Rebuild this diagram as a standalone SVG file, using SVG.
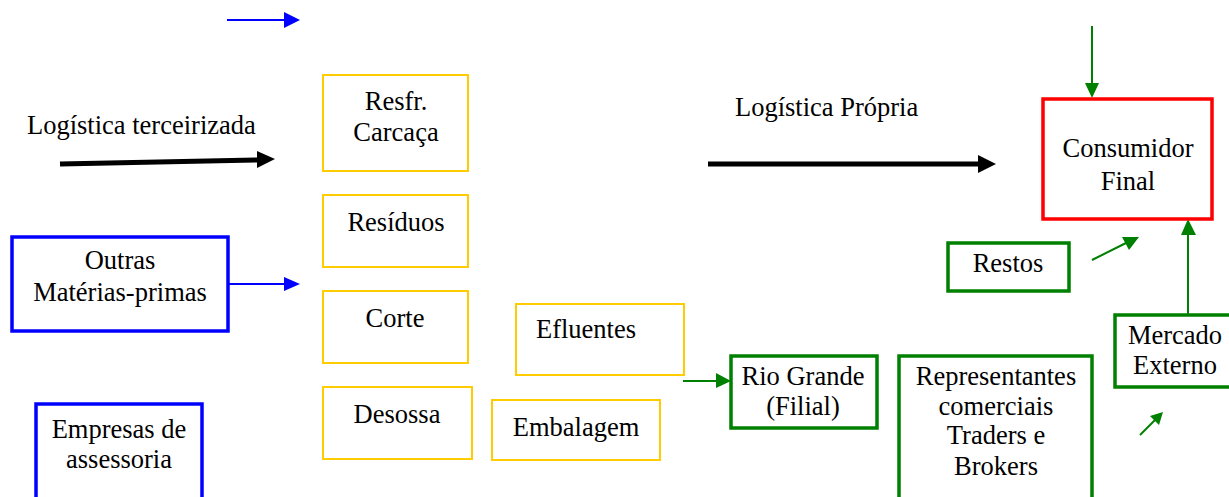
<svg xmlns="http://www.w3.org/2000/svg" width="1229" height="497" viewBox="0 0 1229 497">
<style>
text{font-family:"Liberation Serif","Times New Roman",serif;font-size:26.5px;fill:#000}
.c{text-anchor:middle}
.y{fill:#fff;stroke:#FFCC00;stroke-width:2}
.b{fill:#fff;stroke:#0000FF;stroke-width:3.5}
.g{fill:#fff;stroke:#008000;stroke-width:3.5}
.r{fill:#fff;stroke:#FF0000;stroke-width:3.5}
.lb{stroke:#0000FF;stroke-width:2;fill:none}
.lg{stroke:#008000;stroke-width:2;fill:none}
.lk{stroke:#000;stroke-width:5;fill:none}
</style>
<rect width="1229" height="497" fill="#fff"/>
<g id="connectors">
<line class="lb" x1="227" y1="20" x2="286" y2="20"/>
<polygon points="284,12 300,20 284,28" fill="#0000FF"/>
<line class="lk" x1="60" y1="164" x2="259" y2="160"/>
<polygon points="257,151 275,159 257,168" fill="#000"/>
<line class="lb" x1="229" y1="284" x2="286" y2="284"/>
<polygon points="284,277 300,284 284,291" fill="#0000FF"/>
<line class="lk" x1="708" y1="164" x2="980" y2="164"/>
<polygon points="978,155 996,164 978,173" fill="#000"/>
<line class="lg" x1="1092" y1="26" x2="1092" y2="85"/>
<polygon points="1085,83 1092,98 1099,83" fill="#008000"/>
<line class="lg" x1="1188" y1="315" x2="1188" y2="233"/>
<polygon points="1181,235 1188,219 1196,235" fill="#008000"/>
<line class="lg" x1="1092" y1="260" x2="1128" y2="242"/>
<polygon points="1122,237 1139,237 1129,250" fill="#008000"/>
<line class="lg" x1="1140" y1="435" x2="1156" y2="419"/>
<polygon points="1150,416 1163,412 1159,425" fill="#008000"/>
<line class="lg" x1="683" y1="381" x2="718" y2="381"/>
<polygon points="716,373 731,381 716,388" fill="#008000"/>
</g>
<g id="lbl-terceirizada"><text x="27" y="134">Logística terceirizada</text></g>
<g id="lbl-propria"><text x="735" y="116">Logística Própria</text></g>
<g id="resfr"><rect class="y" x="323" y="75" width="145" height="96"/><text class="c" x="396" y="110">Resfr.</text><text class="c" x="396" y="141">Carcaça</text></g>
<g id="residuos"><rect class="y" x="323" y="195" width="145" height="72"/><text class="c" x="396" y="231">Resíduos</text></g>
<g id="corte"><rect class="y" x="323" y="291" width="145" height="72"/><text class="c" x="395" y="327">Corte</text></g>
<g id="desossa"><rect class="y" x="323" y="387" width="149" height="72"/><text class="c" x="397" y="423">Desossa</text></g>
<g id="efluentes"><rect class="y" x="516" y="304" width="168" height="71"/><text class="c" x="586" y="338">Efluentes</text></g>
<g id="embalagem"><rect class="y" x="492" y="400" width="168" height="60"/><text class="c" x="576" y="436">Embalagem</text></g>
<g id="outras"><rect class="b" x="12" y="237" width="216" height="94"/><text class="c" x="120" y="269">Outras</text><text class="c" x="120" y="301">Matérias-primas</text></g>
<g id="empresas"><rect class="b" x="36" y="404" width="166" height="110"/><text class="c" x="119" y="438">Empresas de</text><text class="c" x="119" y="468">assessoria</text></g>
<g id="consumidor"><rect class="r" x="1043" y="99" width="169" height="120"/><text class="c" x="1128" y="157">Consumidor</text><text class="c" x="1128" y="190">Final</text></g>
<g id="restos"><rect class="g" x="948" y="243" width="121" height="48"/><text class="c" x="1008" y="272">Restos</text></g>
<g id="riogrande"><rect class="g" x="731" y="356" width="146" height="72"/><text class="c" x="803" y="385">Rio Grande</text><text class="c" x="803" y="415">(Filial)</text></g>
<g id="representantes"><rect class="g" x="899" y="356" width="193" height="160"/><text class="c" x="996" y="385">Representantes</text><text class="c" x="996" y="415">comerciais</text><text class="c" x="996" y="444">Traders e</text><text class="c" x="996" y="475">Brokers</text></g>
<g id="mercado"><rect class="g" x="1115" y="315" width="120" height="72"/><text class="c" x="1175" y="344">Mercado</text><text class="c" x="1175" y="374">Externo</text></g>
</svg>
